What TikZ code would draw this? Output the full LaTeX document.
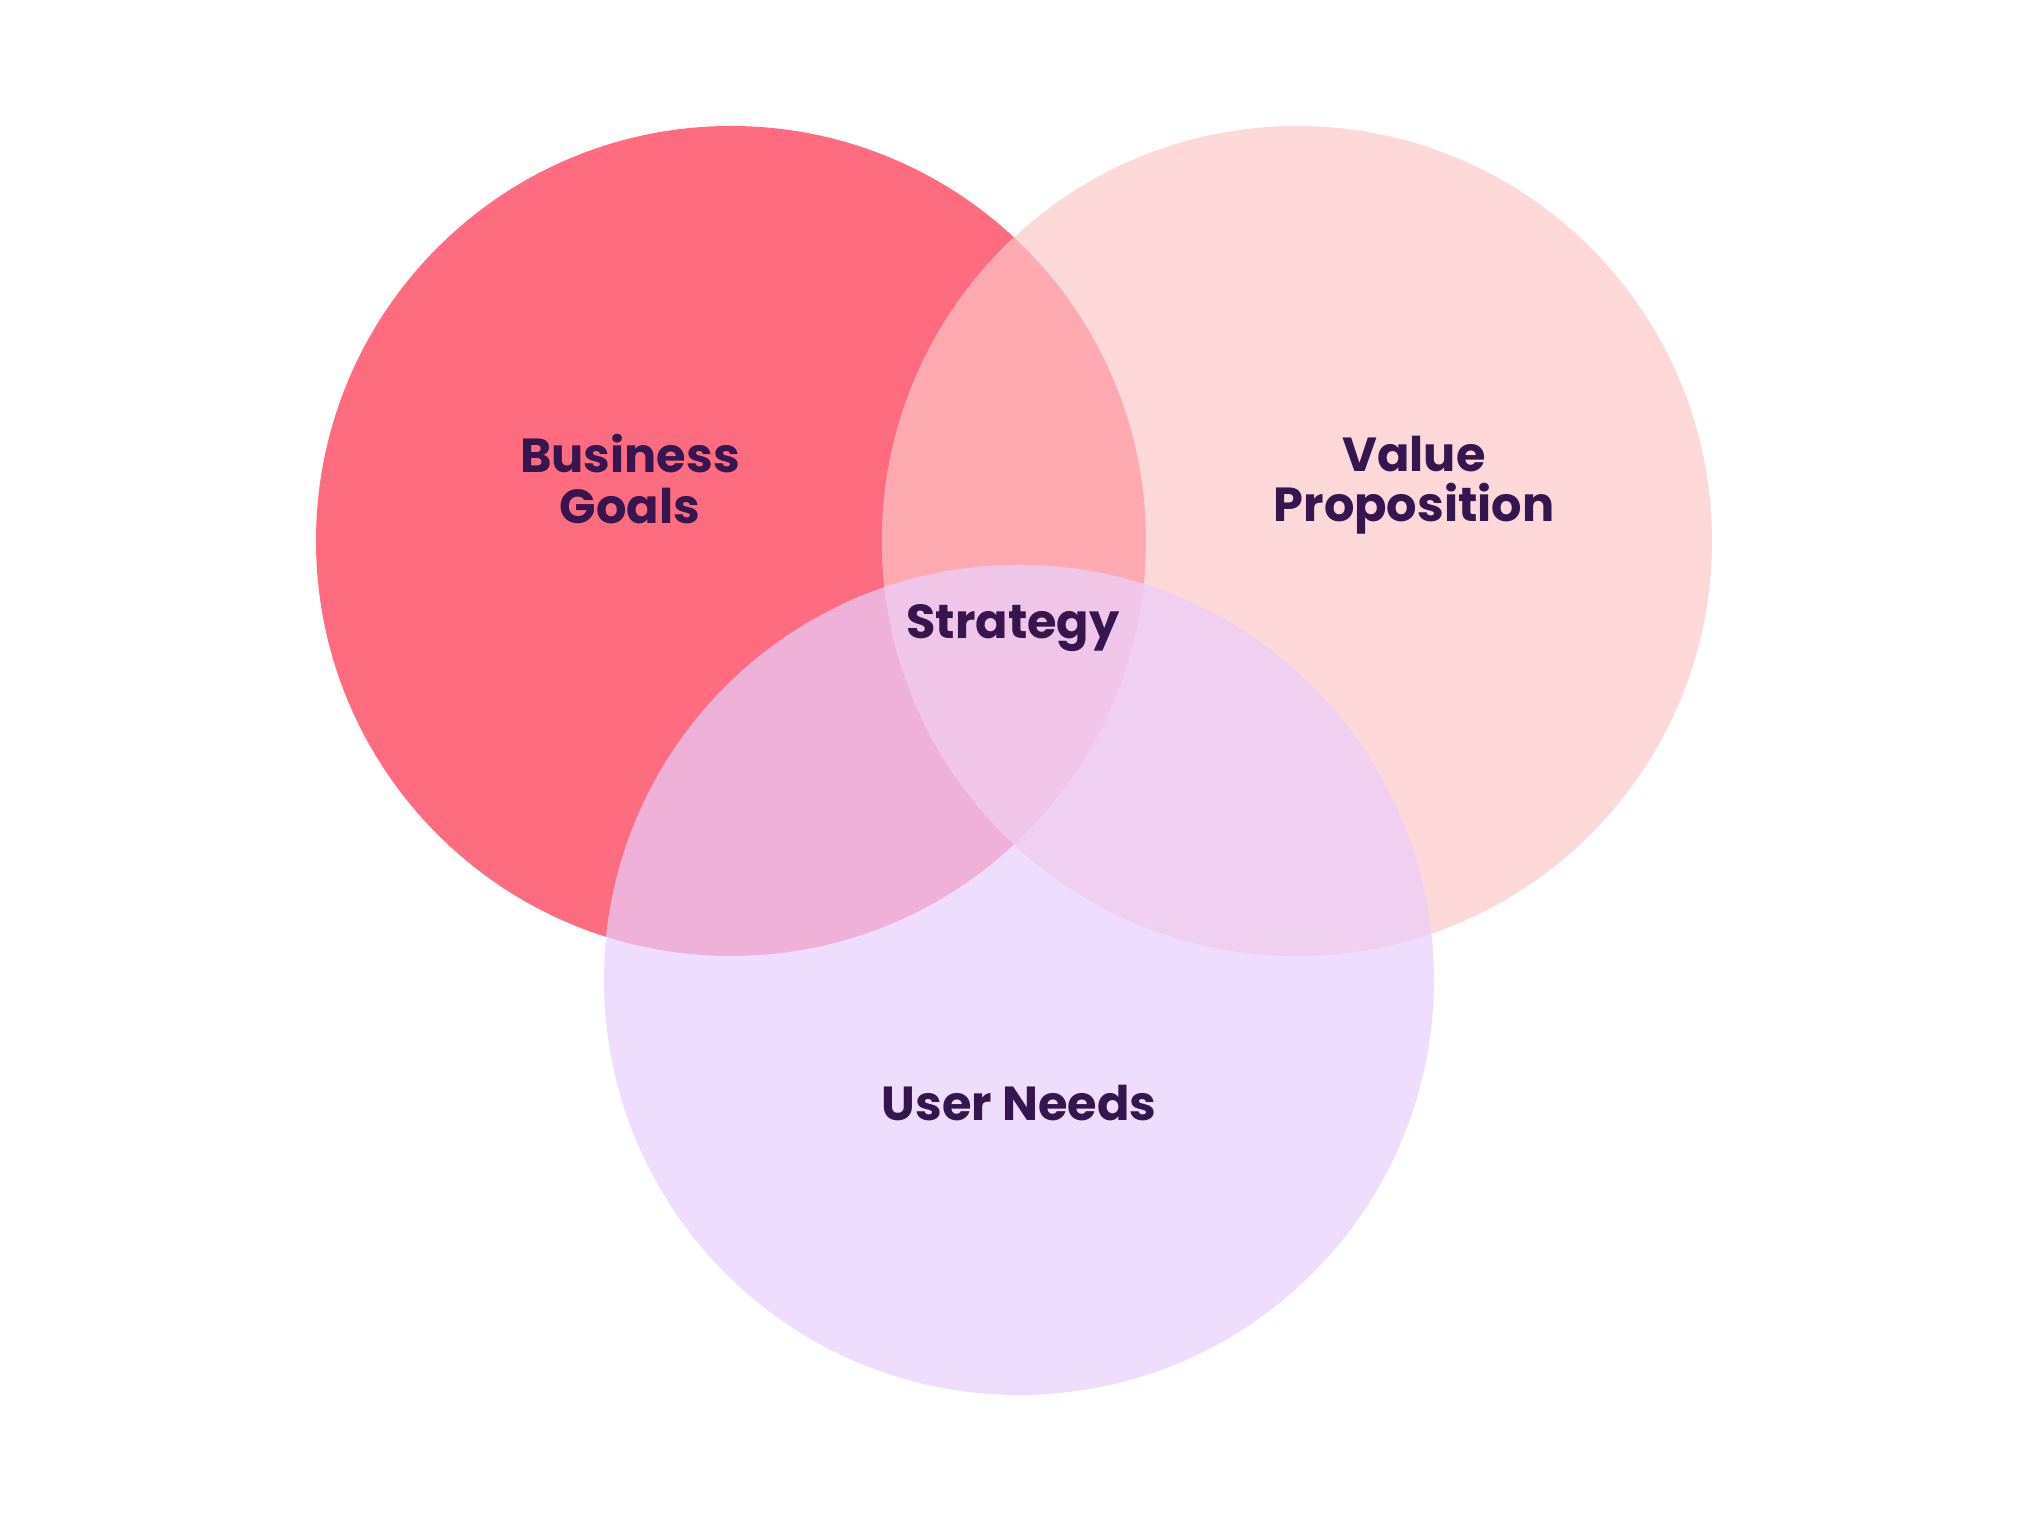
\documentclass[tikz,border=0pt]{standalone}
\usepackage{fontspec}
\setmainfont{Poppins}
\usepackage{xcolor}
\usepackage{tikz}
\definecolor{goals}{HTML}{FF6B7F}
\definecolor{value}{HTML}{FFD8DA}
\definecolor{users}{HTML}{EFDDFE}
\definecolor{goalsvalue}{HTML}{FFAAB1}
\definecolor{goalsusers}{HTML}{EFB1D8}
\definecolor{valueusers}{HTML}{F0D0F0}
\definecolor{strat}{HTML}{F0C6E8}
\definecolor{ink}{HTML}{35164F}

\begin{document}
\begin{tikzpicture}[
    every node/.style={font=\fontsize{13.6}{16.4}\selectfont\bfseries, text=ink},
    lbl/.style={align=center, inner sep=0pt, text depth=0pt}
  ]
  \useasboundingbox (0,0) rectangle (20.28,15.24);
  \def\circG{(7.31,9.83) circle (4.15)}
  \def\circV{(12.97,9.83) circle (4.15)}
  \def\circU{(10.19,5.44) circle (4.15)}

  % three sets
  \fill[goals] \circG;
  \fill[value] \circV;
  \fill[users] \circU;

  % pairwise overlaps
  \begin{scope}
    \clip \circG;
    \fill[goalsvalue] \circV;
    \fill[goalsusers] \circU;
  \end{scope}
  \begin{scope}
    \clip \circV;
    \fill[valueusers] \circU;
  \end{scope}
  \begin{scope}
    \clip \circG;
    \clip \circV;
    \fill[strat] \circU;
  \end{scope}

  \node[lbl] (goalsTxt) at (6.30,10.45) {Business\\[-2pt]Goals};
  \node[lbl] (valueTxt) at (14.14,10.45) {Value\\[-2pt]Proposition};
  \node[lbl] (stratTxt) at (10.13,9.03) {Strategy};
  \node[lbl] (usersTxt) at (10.19,4.21) {User Needs};
\end{tikzpicture}
\end{document}
